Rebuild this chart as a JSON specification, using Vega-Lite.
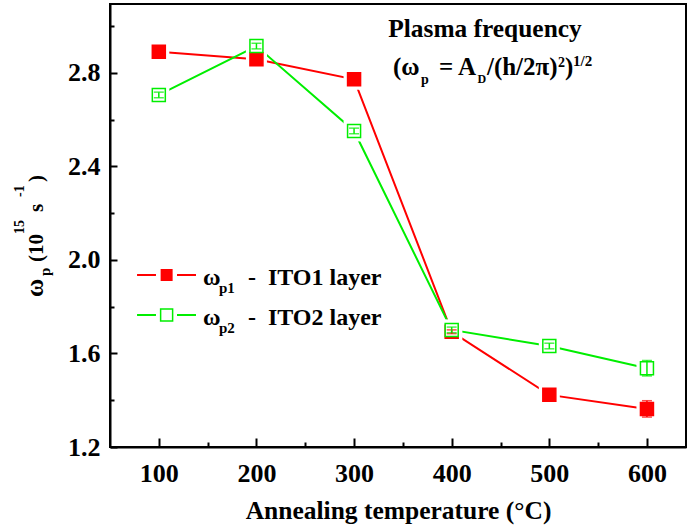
{
  "$schema": "https://vega.github.io/schema/vega-lite/v6.json",
  "width": 576,
  "height": 443,
  "autosize": "none",
  "padding": {"left": 110, "top": 4, "right": 3, "bottom": 83},
  "background": "white",
  "config": {
    "view": {"stroke": "black", "strokeWidth": 2},
    "axis": {
      "labelFont": "Liberation Serif", "labelFontWeight": "bold", "labelFontSize": 26, "labelColor": "black",
      "titleFont": "Liberation Serif", "titleFontWeight": "bold", "titleFontSize": 25.5, "titleColor": "black",
      "domainColor": "black", "domainWidth": 2, "tickColor": "black", "tickWidth": 2, "grid": false
    },
    "text": {"font": "Liberation Serif", "fontWeight": "bold", "fontSize": 25, "color": "black", "align": "left", "baseline": "alphabetic"}
  },
  "datasets": {
    "main": [
      {"T": 100, "s": "ITO1", "v": 2.891, "e": 0.008},
      {"T": 200, "s": "ITO1", "v": 2.859, "e": 0.008},
      {"T": 300, "s": "ITO1", "v": 2.773, "e": 0.008},
      {"T": 400, "s": "ITO1", "v": 1.693, "e": 0.008},
      {"T": 500, "s": "ITO1", "v": 1.423, "e": 0.008},
      {"T": 600, "s": "ITO1", "v": 1.363, "e": 0.035},
      {"T": 100, "s": "ITO2", "v": 2.706, "e": 0.012},
      {"T": 200, "s": "ITO2", "v": 2.915, "e": 0.012},
      {"T": 300, "s": "ITO2", "v": 2.552, "e": 0.012},
      {"T": 400, "s": "ITO2", "v": 1.701, "e": 0.012},
      {"T": 500, "s": "ITO2", "v": 1.632, "e": 0.012},
      {"T": 600, "s": "ITO2", "v": 1.537, "e": 0.033}
    ],
    "one": [{"k": 1}]
  },
  "data": {"name": "one"},
  "layer": [
    {"data": {"name": "main"},
     "mark": {"type": "line", "strokeWidth": 2},
     "encoding": {
       "x": {"field": "T", "type": "quantitative", "scale": {"domain": [50, 640], "nice": false, "zero": false},
         "axis": {"title": "Annealing temperature (°C)", "titlePadding": 12, "values": [100, 150, 200, 250, 300, 350, 400, 450, 500, 550, 600],
           "labelExpr": "datum.value % 100 === 0 ? datum.label : ''", "labelPadding": 22,
           "tickSize": {"condition": {"test": "datum.value % 100 === 0", "value": -9}, "value": -5}}},
       "y": {"field": "v", "type": "quantitative", "scale": {"domain": [1.2, 3.095], "nice": false, "zero": false},
         "axis": {"title": null, "values": [1.2, 1.4, 1.6, 1.8, 2.0, 2.2, 2.4, 2.6, 2.8, 3.0], "format": ".1f",
           "labelExpr": "round(datum.value * 10) % 4 === 0 ? datum.label : ''", "labelPadding": 17,
           "tickSize": {"condition": {"test": "round(datum.value * 10) % 4 === 0", "value": -7}, "value": -4}}},
       "color": {"field": "s", "type": "nominal", "scale": {"domain": ["ITO1", "ITO2"], "range": ["#ff0000", "#00ee00"]}, "legend": null}}},
    {"data": {"name": "main"},
     "mark": {"type": "point", "shape": "square", "size": 441, "filled": true, "color": "white", "opacity": 1},
     "encoding": {"x": {"field": "T", "type": "quantitative"}, "y": {"field": "v", "type": "quantitative"}}},
    {"data": {"name": "main"},
     "mark": {"type": "point", "shape": "square", "size": 169, "strokeWidth": 1.5, "opacity": 1},
     "encoding": {
       "x": {"field": "T", "type": "quantitative"}, "y": {"field": "v", "type": "quantitative"},
       "fill": {"field": "s", "type": "nominal", "scale": {"domain": ["ITO1", "ITO2"], "range": ["#ff0000", "#ffffff"]}, "legend": null},
       "stroke": {"field": "s", "type": "nominal", "scale": {"domain": ["ITO1", "ITO2"], "range": ["#ff0000", "#00ee00"]}, "legend": null}}},
    {"data": {"name": "main"},
     "mark": {"type": "errorbar", "ticks": {"size": 10, "thickness": 1.5}, "rule": {"strokeWidth": 1.5}},
     "encoding": {"x": {"field": "T", "type": "quantitative"}, "y": {"field": "v", "type": "quantitative"}, "yError": {"field": "e"},
       "color": {"field": "s", "type": "nominal", "scale": {"domain": ["ITO1", "ITO2"], "range": ["#ff0000", "#00ee00"]}, "legend": null}}},

    {"mark": {"type": "text", "text": "Plasma frequency", "align": "center", "fontSize": 25.4}, "encoding": {"x": {"datum": 434.1}, "y": {"datum": 2.954}}},
    {"mark": {"type": "text", "text": "(ω"}, "encoding": {"x": {"datum": 339.9}, "y": {"datum": 2.791}}},
    {"mark": {"type": "text", "text": "p", "fontSize": 14}, "encoding": {"x": {"datum": 368.5}, "y": {"datum": 2.753}}},
    {"mark": {"type": "text", "text": "= A"}, "encoding": {"x": {"datum": 387.0}, "y": {"datum": 2.791}}},
    {"mark": {"type": "text", "text": "D", "fontSize": 12}, "encoding": {"x": {"datum": 426.4}, "y": {"datum": 2.756}}},
    {"mark": {"type": "text", "text": "/(h/2π)"}, "encoding": {"x": {"datum": 436.1}, "y": {"datum": 2.791}}},
    {"mark": {"type": "text", "text": "2", "fontSize": 14}, "encoding": {"x": {"datum": 508.9}, "y": {"datum": 2.826}}},
    {"mark": {"type": "text", "text": ")"}, "encoding": {"x": {"datum": 516.1}, "y": {"datum": 2.791}}},
    {"mark": {"type": "text", "text": "1/2", "fontSize": 15}, "encoding": {"x": {"datum": 524.3}, "y": {"datum": 2.830}}},

    {"mark": {"type": "text", "text": "ω", "angle": 270, "fontSize": 25}, "encoding": {"x": {"datum": -18.6}, "y": {"datum": 1.8417}}},
    {"mark": {"type": "text", "text": "p", "angle": 270, "fontSize": 15}, "encoding": {"x": {"datum": -11.5}, "y": {"datum": 1.9315}}},
    {"mark": {"type": "text", "text": "(10", "angle": 270, "fontSize": 21}, "encoding": {"x": {"datum": -18.6}, "y": {"datum": 1.9914}}},
    {"mark": {"type": "text", "text": "15", "angle": 270, "fontSize": 14}, "encoding": {"x": {"datum": -38.6}, "y": {"datum": 2.1112}}},
    {"mark": {"type": "text", "text": "s", "angle": 270, "fontSize": 21}, "encoding": {"x": {"datum": -18.6}, "y": {"datum": 2.2053}}},
    {"mark": {"type": "text", "text": "-1", "angle": 270, "fontSize": 14}, "encoding": {"x": {"datum": -38.6}, "y": {"datum": 2.2695}}},
    {"mark": {"type": "text", "text": ")", "angle": 270, "fontSize": 21}, "encoding": {"x": {"datum": -18.6}, "y": {"datum": 2.3337}}},

    {"mark": {"type": "rule", "color": "#ff0000", "strokeWidth": 2}, "encoding": {"x": {"datum": 77.7}, "x2": {"datum": 97.1}, "y": {"datum": 1.9358}}},
    {"mark": {"type": "rule", "color": "#ff0000", "strokeWidth": 2}, "encoding": {"x": {"datum": 118.6}, "x2": {"datum": 138.1}, "y": {"datum": 1.9358}}},
    {"mark": {"type": "point", "shape": "square", "size": 144, "filled": true, "color": "#ff0000", "opacity": 1}, "encoding": {"x": {"datum": 108.0}, "y": {"datum": 1.9358}}},
    {"mark": {"type": "rule", "color": "#00ee00", "strokeWidth": 2}, "encoding": {"x": {"datum": 77.7}, "x2": {"datum": 97.1}, "y": {"datum": 1.7647}}},
    {"mark": {"type": "rule", "color": "#00ee00", "strokeWidth": 2}, "encoding": {"x": {"datum": 118.6}, "x2": {"datum": 138.1}, "y": {"datum": 1.7647}}},
    {"mark": {"type": "point", "shape": "square", "size": 144, "filled": true, "fill": "white", "stroke": "#00ee00", "strokeWidth": 1.5, "opacity": 1}, "encoding": {"x": {"datum": 108.0}, "y": {"datum": 1.7647}}},

    {"mark": {"type": "text", "text": "ω", "fontSize": 24}, "encoding": {"x": {"datum": 145.3}, "y": {"datum": 1.893}}},
    {"mark": {"type": "text", "text": "p1", "fontSize": 15}, "encoding": {"x": {"datum": 161.6}, "y": {"datum": 1.859}}},
    {"mark": {"type": "text", "text": "-", "fontSize": 24}, "encoding": {"x": {"datum": 191.3}, "y": {"datum": 1.893}}},
    {"mark": {"type": "text", "text": "ITO1 layer", "fontSize": 24}, "encoding": {"x": {"datum": 211.8}, "y": {"datum": 1.893}}},
    {"mark": {"type": "text", "text": "ω", "fontSize": 24}, "encoding": {"x": {"datum": 145.3}, "y": {"datum": 1.722}}},
    {"mark": {"type": "text", "text": "p2", "fontSize": 15}, "encoding": {"x": {"datum": 161.6}, "y": {"datum": 1.688}}},
    {"mark": {"type": "text", "text": "-", "fontSize": 24}, "encoding": {"x": {"datum": 191.3}, "y": {"datum": 1.722}}},
    {"mark": {"type": "text", "text": "ITO2 layer", "fontSize": 24}, "encoding": {"x": {"datum": 211.8}, "y": {"datum": 1.722}}}
  ]
}
